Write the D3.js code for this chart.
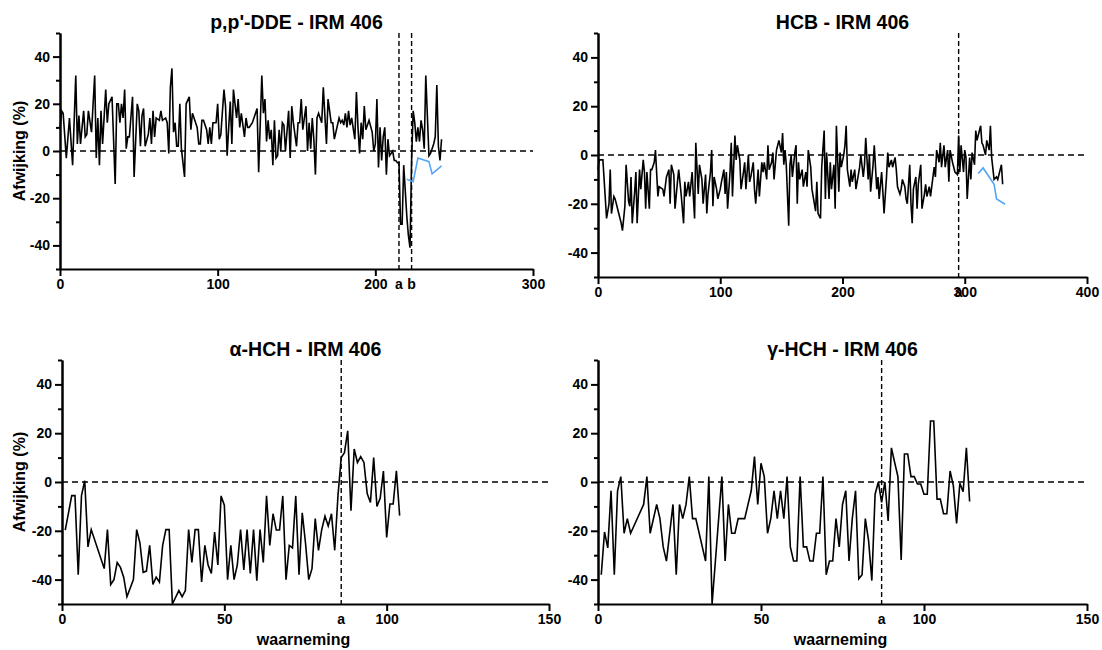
<!DOCTYPE html>
<meta charset="utf-8">
<title>Afwijking IRM 406</title>
<style>
  body { margin: 0; background: white; }
  svg text { font-family: "Liberation Sans", Arial, sans-serif; font-weight: bold; fill: #000; }
  .axis path, .axis line { stroke: #000; stroke-width: 2px; }
  .axis text { font-size: 14px; }
  .series { fill: none; stroke: #000; stroke-width: 1.6px; }
  .series.blue { stroke: #55a6f7; }
  .zero { stroke: #000; stroke-width: 1.4px; stroke-dasharray: 6,4; }
  .marker { stroke: #000; stroke-width: 1.4px; stroke-dasharray: 5,3; }
  .title { font-size: 19.5px; }
  .label { font-size: 16px; }
</style>
<svg width="1102" height="650"></svg>
<script src="https://d3js.org/d3.v7.min.js"></script>
<script>
var ddeBlack = [[0,9],[1,17],[2,16],[4,-3],[6,14],[8,-6],[10,32],[11,3],[12,15],[13,3],[15,17],[16,6],
  [17,7],[18,17],[20,8],[22,32],[23,-3],[24,14],[25,-6],[26,17],[27,3],[29,26],[30,12],[31,20],[33,23],
  [35,-14],[36,20],[37,20],[38,12],[39,20],[40,14],[41,26],[42,1],[43,6],[44,6],[46,23],[47,-11],[49,20],
  [50,17],[51,2],[52,15],[53,18],[54,2],[56,7],[57,14],[58,3],[59,17],[60,6],[61,14],[63,13],[64,17],
  [65,13],[67,14],[68,12],[69,-1],[70,27],[71,35],[72,8],[73,12],[74,2],[75,2],[76,20],[77,1],[79,-11],
  [80,20],[82,23],[83,9],[84,16],[85,14],[87,10],[88,3],[89,3],[90,13],[91,13],[93,9],[94,3],[95,10],
  [96,3],[97,12],[99,12],[100,20],[101,5],[102,7],[104,26],[105,19],[106,-2],[107,10],[108,21],[109,3],
  [110,26],[112,14],[113,22],[114,10],[115,16],[117,6],[118,14],[119,10],[120,10],[122,12],[124,16],
  [125,18],[126,-9],[128,32],[129,16],[130,22],[131,4],[132,13],[133,5],[134,9],[135,-6],[136,13],
  [137,-3],[138,-2],[139,9],[140,0],[141,12],[142,11],[143,0],[145,17],[146,-3],[147,19],[148,12],
  [150,2],[151,12],[152,12],[153,22],[154,9],[156,19],[157,0],[158,12],[159,1],[160,14],[161,5],
  [162,-10],[163,14],[164,16],[166,12],[167,27],[168,15],[169,3],[170,22],[172,12],[173,12],[174,5],
  [175,8],[177,14],[178,12],[179,13],[180,11],[181,16],[182,10],[183,17],[184,11],[185,14],[187,5],
  [188,25],[189,10],[190,-1],[191,12],[192,5],[193,19],[194,9],[195,11],[196,13],[198,8],[199,0],
  [200,3],[201,22],[202,-7],[203,10],[204,-4],[205,6],[206,10],[207,-10],[208,5],[209,-2],[211,0],
  [212,-4],[213,-4],[214,-5],[215,-5],[216,-31],[217,-31],[218,-6],[220,-28],[221,-36],[222,-41],
  [223,-4],[224,17],[225,12],[226,4],[227,10],[228,4],[229,13],[230,9],[231,1],[232,32],[234,-2],
  [235,-1],[236,1],[237,3],[238,6],[239,28],[240,2],[241,-4],[242,5]];
var ddeBlue = [[220,-12],[224,-13],[227,-3],[234,-4.5],[236,-9.7],[242,-6.3]];

var hcbBlack = [[0,-6],[1,-2],[4,-2],[7,-26],[9,-20],[10,-6],[11,-24],[13,-17],[14,-18],[15,-20],
  [17,-24],[19,-28],[20,-31],[22,-21],[23,-4],[25,-19],[26,-21],[27,-9],[28,-28],[30,-15],[31,-7],
  [32,-28],[34,-6],[35,-14],[37,-2],[38,-7],[39,-22],[40,-7],[42,-22],[43,-6],[44,-6],[46,-3],[47,2],
  [49,-17],[50,-13],[53,-14],[54,-17],[56,-9],[58,-6],[59,-20],[60,-4],[62,-8],[63,-22],[65,-11],
  [66,-6],[68,-16],[70,-28],[71,-11],[72,-17],[74,-11],[75,-17],[77,-7],[78,-17],[79,-26],[80,5],
  [82,-16],[83,-4],[85,-10],[86,-20],[88,-8],[89,-24],[90,-16],[92,-7],[93,2],[94,-21],[95,-9],
  [97,-14],[98,-18],[100,-14],[101,-11],[103,-6],[104,-16],[105,-7],[106,-22],[108,-7],[109,5],
  [110,-17],[112,8],[113,-2],[114,4],[116,-2],[117,-14],[119,-7],[120,-3],[121,-14],[123,0],[124,-11],
  [125,-9],[127,-3],[128,-14],[129,-20],[131,-6],[132,-17],[134,-3],[135,-7],[136,-3],[138,-10],
  [139,4],[140,-6],[142,-3],[143,1],[144,-10],[146,2],[147,4],[148,6],[150,1],[151,9],[152,-4],
  [153,2],[154,-4],[156,-29],[157,-4],[158,0],[159,-9],[161,1],[162,4],[163,-20],[164,-3],[165,-10],
  [167,-6],[168,-13],[170,-7],[171,-13],[172,2],[174,-5],[175,-14],[176,-17],[178,-23],[179,-11],
  [180,-24],[182,-26],[183,-5],[185,10],[186,-18],[187,1],[189,-18],[190,-3],[191,-14],[193,-4],
  [194,-22],[195,12],[197,-15],[198,1],[199,-5],[201,0],[202,4],[203,12],[204,-6],[206,-13],[207,-6],
  [208,-11],[210,-6],[211,-14],[213,-8],[214,-5],[215,0],[217,-9],[218,-4],[219,7],[221,-10],[222,0],
  [223,-15],[225,-4],[226,4],[228,-14],[229,-9],[230,-18],[232,-7],[233,-15],[234,-24],[236,-9],
  [237,1],[238,-5],[240,-2],[241,-5],[243,-1],[244,-6],[245,-13],[247,-16],[248,-14],[249,-10],
  [251,-13],[252,-18],[253,-20],[255,-4],[256,-20],[257,-28],[258,-14],[260,-9],[261,-22],[262,-12],
  [264,-4],[265,-22],[267,-16],[268,-12],[269,-17],[271,-13],[272,-17],[273,-13],[275,-5],[276,-9],
  [277,2],[279,-3],[280,5],[281,-5],[283,4],[284,-5],[286,2],[287,-11],[288,2],[290,-3],[291,-5],
  [292,-7],[294,-8],[295,8],[296,-7],[297,4],[299,-7],[300,2],[301,-1],[302,-18],[304,-1],[305,-10],
  [306,1],[308,-4],[309,10],[310,6],[311,8],[313,12],[314,5],[315,4],[317,0],[318,6],[320,2],[321,12],
  [322,-1],[324,-10],[326,-9],[327,-10],[330,-4],[331,-12]];
var hcbBlue = [[311,-7.6],[315,-5.3],[324,-12],[326,-18],[333,-20.2]];

var ahchBlack = [[1,-19.7],[3,-5.6],[4,-5.6],[5,-38],[6,-5.6],[7,0.5],[8,-26.6],[9,-19.5],[13,-35.5],
  [14,-19.5],[15,-42],[16,-40],[17,-33],[18,-35],[19,-39],[20,-47],[22,-40],[23,-19.5],[24,-25],
  [25,-37],[26,-36.5],[27,-26],[28,-42],[29,-39],[30,-41],[31,-26],[32,-19.5],[33,-19.5],[34,-50],
  [36,-44.5],[37,-47],[38,-44.5],[39,-19.5],[40,-33],[41,-19.5],[42,-19.5],[43,-41],[44,-26],[45,-34],
  [46,-37.5],[47,-20.5],[48,-34],[49,-5.7],[50,-9.5],[51,-40],[52,-26],[53,-40],[54,-34],[55,-19.5],
  [56,-36],[57,-19.5],[58,-37.5],[59,-19.5],[60,-40.5],[61,-19.5],[62,-33],[63,-5.7],[64,-26],
  [65,-13],[66,-19.7],[67,-19.7],[68,-5.7],[69,-40],[70,-26],[71,-27],[72,-5.7],[73,-38],[74,-12.6],
  [75,-25],[76,-40],[77,-35.5],[78,-15],[79,-28],[80,-19.5],[81,-14],[82,-18],[83,-13],[84,-28],
  [85,-5.6],[86,10],[87,12],[88,21],[89,-11.8],[90,13.5],[91,8],[92,10.4],[93,8],[94,-4.7],[95,-8.4],
  [96,10],[97,-10],[98,-6.7],[99,4.5],[100,-22.7],[101,-9],[102,-9],[103,4.6],[104,-13.8]];

var ghchBlack = [[1,-38],[2,-20.5],[3,-27],[4,-3.6],[5,-38],[6,-3.6],[7,2.2],[8,-21],[9,-15],[10,-21],
  [14,-9.2],[15,2.2],[16,-21],[18,-9.2],[19,-15],[20,-26.6],[21,-32.4],[23,-9.2],[24,-38],[25,-9.2],
  [26,-15],[27,-9.2],[28,2.2],[29,-15],[30,-15],[33,-32.4],[34,2.2],[35,-50],[38,2.2],[39,-32.4],
  [40,-9.2],[41,-21],[42,-21],[43,-15],[45,-15],[47,-3.6],[48,10.4],[49,-9.2],[50,7.7],[51,2.2],
  [52,-21],[53,-15],[54,-3.6],[55,-15],[56,-3.6],[57,-15],[58,2.2],[59,-26.6],[60,-32.4],[61,-32.4],
  [62,2.2],[63,-26.6],[64,-26.6],[65,-32.4],[66,-32.4],[67,-21],[68,-21],[69,2.2],[70,-38],[71,-32.4],
  [72,-32.4],[73,-15],[74,-26.6],[75,-9.2],[76,-3.6],[77,-32.4],[78,-15],[79,-3.6],[80,-39.7],[81,-38],
  [82,-15],[83,-24],[84,-40.4],[85,-5],[86,0],[87,-8.4],[88,0],[89,-16],[90,14],[91,8],[92,2.2],
  [93,-32],[94,11.5],[95,11.5],[96,2.2],[97,2.2],[98,-0.8],[99,-0.8],[100,-5],[101,-5],[102,25],
  [103,25],[104,-7],[105,-7],[106,-13],[107,-13],[108,4.5],[109,-1.5],[110,-17],[111,-0.5],[112,-4],
  [113,14],[114,-8]];

var yTicks = [-40, -20, 0, 20, 40];
var yMinor = [-50, -30, -10, 10, 30, 50];
var ddeXTicks = [0, 100, 200, 300];
var hcbXTicks = [0, 100, 200, 300, 400];
var hchXTicks = [0, 50, 100, 150];
var ddeMarkers = [215, 223], ddeMarkerLabels = ["a", "b"];
var hcbMarkers = [295], hcbMarkerLabels = ["a"];
var ahchMarkers = [86], ghchMarkers = [87], hchMarkerLabels = ["a"];

var panels = [
  { title: "p,p'-DDE - IRM 406", left: 60, right: 533, top: 33, bottom: 269, xMax: 300, xTicks: ddeXTicks,
    black: ddeBlack, blue: ddeBlue, markers: ddeMarkers, markerLabels: ddeMarkerLabels, yLabel: true, xLabel: false },
  { title: "HCB - IRM 406", left: 598, right: 1087, top: 33, bottom: 277, xMax: 400, xTicks: hcbXTicks,
    black: hcbBlack, blue: hcbBlue, markers: hcbMarkers, markerLabels: hcbMarkerLabels, yLabel: false, xLabel: false },
  { title: "\u03b1-HCH - IRM 406", left: 62, right: 549, top: 360, bottom: 604, xMax: 150, xTicks: hchXTicks,
    black: ahchBlack, blue: null, markers: ahchMarkers, markerLabels: hchMarkerLabels, yLabel: true, xLabel: true },
  { title: "\u03b3-HCH - IRM 406", left: 598, right: 1087, top: 360, bottom: 604, xMax: 150, xTicks: hchXTicks,
    black: ghchBlack, blue: null, markers: ghchMarkers, markerLabels: hchMarkerLabels, yLabel: false, xLabel: true }
];

var svg = d3.select("svg");

panels.forEach(function(p) {
  var x = d3.scaleLinear().domain([0, p.xMax]).range([p.left, p.right]);
  var y = d3.scaleLinear().domain([-50, 50]).range([p.bottom, p.top]);
  var g = svg.append("g");

  var line = d3.line()
      .x(function(d) { return x(d[0]); })
      .y(function(d) { return y(d[1]); });

  // zero reference
  g.append("line").attr("class", "zero")
      .attr("x1", x(0)).attr("x2", x(p.xMax))
      .attr("y1", y(0)).attr("y2", y(0));

  // change markers
  g.selectAll(".marker").data(p.markers).enter().append("line")
      .attr("class", "marker")
      .attr("x1", function(d) { return x(d); }).attr("x2", function(d) { return x(d); })
      .attr("y1", y(50)).attr("y2", y(-50));

  g.append("path").datum(p.black).attr("class", "series").attr("d", line);
  if (p.blue) g.append("path").datum(p.blue).attr("class", "series blue").attr("d", line);

  // axes
  g.append("g").attr("class", "axis")
      .attr("transform", "translate(0," + p.bottom + ")")
      .call(d3.axisBottom(x).tickValues(p.xTicks).tickSize(7).tickSizeOuter(0).tickPadding(3)
        .tickFormat(function(d) { return String(d); }));
  g.append("g").attr("class", "axis")
      .attr("transform", "translate(" + p.left + ",0)")
      .call(d3.axisLeft(y).tickValues(yMinor).tickSize(4).tickSizeOuter(0).tickFormat(""));
  g.append("g").attr("class", "axis")
      .attr("transform", "translate(" + p.left + ",0)")
      .call(d3.axisLeft(y).tickValues(yTicks).tickSize(7).tickSizeOuter(0).tickPadding(3)
        .tickFormat(function(d) { return String(d); }));

  g.selectAll(".mlabel").data(p.markers).enter().append("text")
      .attr("class", "mlabel")
      .attr("x", function(d) { return x(d); })
      .attr("y", p.bottom + 20)
      .attr("text-anchor", "middle")
      .style("font-size", "14px")
      .text(function(d, i) { return p.markerLabels[i]; });

  g.append("text").attr("class", "title")
      .attr("x", (p.left + p.right) / 2).attr("y", p.top - 4)
      .attr("text-anchor", "middle")
      .text(p.title);

  if (p.yLabel) {
    g.append("text").attr("class", "label")
        .attr("transform", "translate(25," + (p.top + p.bottom) / 2 + ") rotate(-90)")
        .attr("text-anchor", "middle")
        .text("Afwijking (%)");
  }
  if (p.xLabel) {
    g.append("text").attr("class", "label")
        .attr("x", (p.left + p.right) / 2 - 2).attr("y", p.bottom + 41)
        .attr("text-anchor", "middle")
        .text("waarneming");
  }
});
</script>
